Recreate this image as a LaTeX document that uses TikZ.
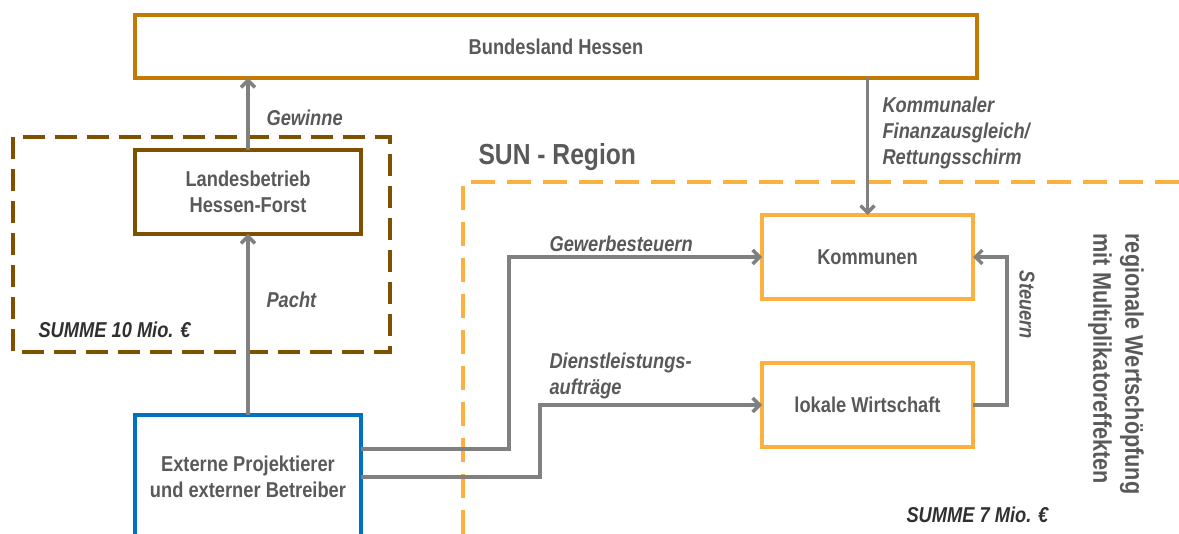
\documentclass[tikz,border=0pt]{standalone}
\usepackage{fontspec}
\setmainfont{Liberation Sans}[FakeStretch=0.85]
\usetikzlibrary{arrows.meta,calc,positioning}
\definecolor{hbrown}{HTML}{C27A00}
\definecolor{dbrown}{HTML}{7F5000}
\definecolor{sunorange}{HTML}{FBB040}
\definecolor{extblue}{HTML}{0070C0}
\definecolor{linegray}{HTML}{808080}
\definecolor{txtgray}{HTML}{595959}
\definecolor{sumgray}{HTML}{303030}

\begin{document}
\begin{tikzpicture}[x=1pt,y=-1pt,
  every node/.style={text=txtgray,font=\fontsize{21.5}{26}\selectfont\bfseries},
  block/.style={draw,rectangle,line width=3.5pt,outer sep=0pt,inner sep=0pt,align=center},
  flow/.style={draw=linegray,line width=3.5pt,-{Straight Barb[length=7pt,width=14pt]}},
  lbl/.style={font=\fontsize{21.5}{26}\selectfont\bfseries\itshape,align=left}]

  \useasboundingbox (0,0) rectangle (1179,534);

  % dashed regions
  \draw[dbrown,line width=3.5pt,dash pattern=on 22pt off 10pt] (13,137) rectangle (390,352);
  \draw[sunorange,line width=3.5pt,dash pattern=on 24pt off 12pt] (463,534) -- (463,182) -- (1179,182);

  \node (H) [block,draw=hbrown,minimum width=842,minimum height=63] at (556,46.5) {Bundesland Hessen};
  \node (L) [block,draw=dbrown,minimum width=226,minimum height=84] at (248,192) {Landesbetrieb\\Hessen-Forst};
  \node (E) [block,draw=extblue,minimum width=226,minimum height=124] at (248,477) {Externe Projektierer\\und externer Betreiber};
  \node (K) [block,draw=sunorange,minimum width=211,minimum height=84] at (867.5,257) {Kommunen};
  \node (W) [block,draw=sunorange,minimum width=211,minimum height=84] at (867.5,405) {lokale Wirtschaft};

  \draw[flow] (L.north) -- (L.north |- H.south);
  \draw[flow] (E.north) -- (L.south);
  \draw[flow] (H.south -| K.north) -- (K.north);
  \draw[flow] ($(E.east)+(0,-28)$) -- ++(148,0) |- (K.west);
  \draw[flow] (E.east) -- ++(179,0) |- (W.west);
  \draw[flow] (W.east) -- ++(34,0) |- (K.east);

  \node (gew) [lbl,anchor=west] at (263,118) {Gewinne};
  \node (pa) [lbl,anchor=west] at (263,300) {Pacht};
  \node (kfa) [lbl,anchor=west] at (879,133) {Kommunaler\\Finanzausgleich/\\Rettungsschirm};
  \node (gst) [lbl,anchor=west] at (546,244) {Gewerbesteuern};
  \node (dla) [lbl,anchor=west] at (546,376) {Dienstleistungs-\\aufträge};
  \node (st) [lbl,rotate=-90] at (1027,305) {Steuern};

  \node (sun) [anchor=west,font=\fontsize{29}{34}\selectfont\bfseries] at (475,157) {SUN - Region};
  \node (rw) [anchor=west,rotate=-90,align=left,font=\fontsize{25.5}{32}\selectfont\bfseries] at (1116,230) {regionale Wertschöpfung\\mit Multiplikatoreffekten};

  \node (s10) [lbl,text=sumgray,anchor=west] at (35,330) {SUMME 10 Mio. €};
  \node (s7) [lbl,text=sumgray,anchor=west] at (903,515) {SUMME 7 Mio. €};
\end{tikzpicture}
\end{document}
